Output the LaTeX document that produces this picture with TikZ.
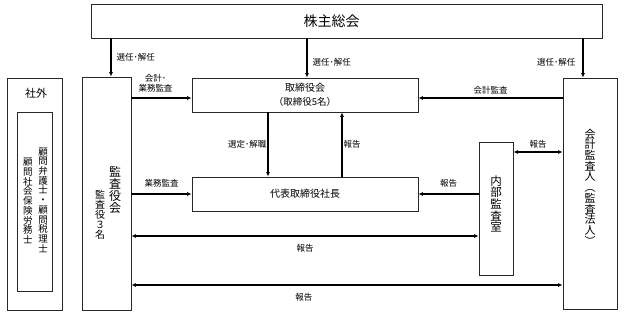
\documentclass[tikz,border=0pt]{standalone}
\usepackage{fontspec}
\setmainfont{Noto Sans CJK JP}
\usetikzlibrary{positioning,arrows.meta}
\definecolor{lineGray}{RGB}{40,40,40}

\begin{document}
\begin{tikzpicture}[
        x=1pt, y=-1pt,
        box/.style={draw=lineGray, line width=0.8pt, inner sep=0pt},
        vtext/.style={align=center, inner sep=0pt},
        lbl/.style={font=\fontsize{8.5}{10.5}\selectfont, inner sep=1pt},
        arr/.style={line width=1.1pt, -{Latex[length=4.5pt,width=4pt]}},
        darr/.style={line width=1.1pt, {Latex[length=4.5pt,width=4pt]}-{Latex[length=4.5pt,width=4pt]}}
    ]
        \useasboundingbox (0,0) rectangle (625,315);
        % boxes
        \node[box, minimum width=511pt, minimum height=34pt, font=\fontsize{14}{14}\selectfont]
            (share) at (346.5,21) {\hspace*{-30pt}\raisebox{-3pt}{株主総会}};
        \node[box, minimum width=55pt, minimum height=232pt] (shagai) at (34.5,194) {};
        \node[box, minimum width=35pt, minimum height=179pt] (komon) at (34.5,201.5) {};
        \node[box, minimum width=49pt, minimum height=233pt] (kansa) at (106.5,193.5) {};
        \node[box, minimum width=226pt, minimum height=34pt, align=center,
              font=\fontsize{10}{13.5}\selectfont]
            (board) at (305,95) {取締役会\\{\fontsize{9.5}{10}\selectfont （取締役5名）}};
        \node[box, minimum width=226pt, minimum height=34pt, font=\fontsize{10}{10}\selectfont]
            (ceo) at (305,194) {代表取締役社長};
        \node[box, minimum width=34pt, minimum height=133pt] (naibu) at (496,208.5) {};
        \node[box, minimum width=54pt, minimum height=231pt] (kaikei) at (590,193.5) {};
        % texts in the tall boxes
        \node[font=\fontsize{11}{11}\selectfont, inner sep=0pt] (shagaiT) at (36,93) {社外};
        \node[vtext, font=\fontsize{9.5}{9.7}\selectfont] (komonA) at (43,200)
            {顧\\問\\弁\\護\\士\\・\\顧\\問\\税\\理\\士};
        \node[vtext, font=\fontsize{9.5}{9.7}\selectfont] (komonB) at (28,201)
            {顧\\問\\社\\会\\保\\険\\労\\務\\士};
        \node[vtext, font=\fontsize{12}{12}\selectfont] (kansaT) at (115,190) {監\\査\\役\\会};
        \node[vtext, font=\fontsize{10}{10}\selectfont] (kansaN) at (100,215) {監\\査\\役\\３\\名};
        \node[vtext, font=\fontsize{11.5}{11.7}\selectfont] (naibuT) at (496,204) {内\\部\\監\\査\\室};
        \node[vtext, font=\fontsize{11}{10.7}\selectfont] (kaikeiT) at (590,187)
            {会\\計\\監\\査\\人\\︵\\監\\査\\法\\人\\︶};
        % appointment
        \draw[arr] ([xshift=4.5pt]kansa.north |- share.south) -- node[lbl, right=4pt] {選任･解任}
            ([xshift=4.5pt]kansa.north);
        \draw[arr] ([xshift=2pt]board.north |- share.south) -- node[lbl, right=4pt, pos=0.62] {選任･解任}
            ([xshift=2pt]board.north);
        \draw[arr] ([xshift=-7pt]kaikei.north |- share.south) -- node[lbl, left=6pt, pos=0.62] {選任･解任}
            ([xshift=-7pt]kaikei.north);
        % audits
        \draw[arr] ([yshift=-3pt]board.west -| kansa.east) -- node[lbl, above=4pt, xshift=-6pt, align=center] {会計･\\業務監査}
            ([yshift=-3pt]board.west);
        \draw[arr] ([yshift=-3pt]board.east -| kaikei.west) -- node[lbl, above=2.5pt] {会計監査}
            ([yshift=-3pt]board.east);
        \draw[arr] (kansa.east |- ceo.west) -- node[lbl, above=5pt] {業務監査} (ceo.west);
        % board and president
        \draw[arr] ([xshift=-37pt]board.south) -- node[lbl, left=0pt] {選定･解職} ([xshift=-37pt]ceo.north);
        \draw[arr] ([xshift=37pt]ceo.north) -- node[lbl, right=0pt] {報告} ([xshift=37pt]board.south);
        % reports
        \draw[arr] (naibu.west |- ceo.east) -- node[lbl, above=5pt] {報告} (ceo.east);
        \draw[darr] ([yshift=56.5pt]naibu.east) -- node[lbl, above=2.5pt] {報告}
            ([yshift=56.5pt]naibu.east -| kaikei.west);
        \draw[darr] ([yshift=-27.5pt]naibu.west -| kansa.east) -- node[lbl, below=7pt] {報告}
            ([yshift=-27.5pt]naibu.west);
        \draw[darr] ([yshift=-91.5pt]kaikei.west -| kansa.east) -- node[lbl, below=7pt, pos=0.4] {報告}
            ([yshift=-91.5pt]kaikei.west);
    \end{tikzpicture}
\end{document}
